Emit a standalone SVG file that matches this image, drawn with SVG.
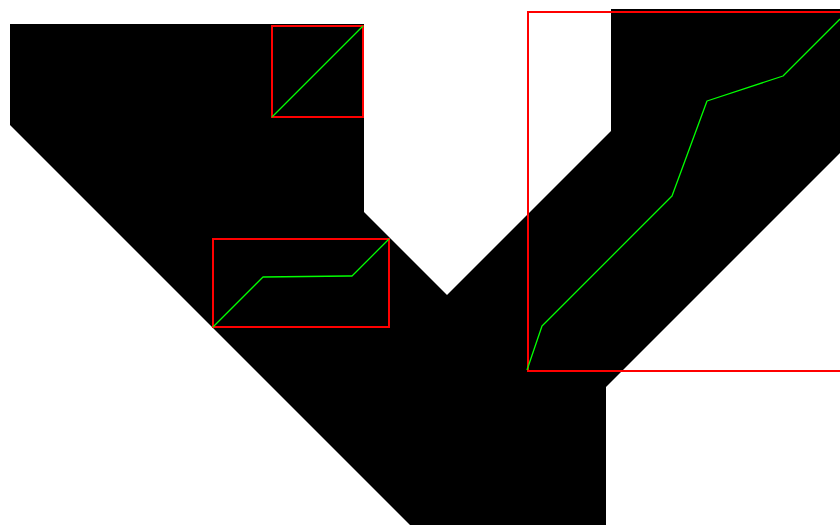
<svg xmlns="http://www.w3.org/2000/svg" width="840" height="527" viewBox="0 0 840 527">
<style>
.box{fill:none;stroke:#ff0000;stroke-width:2}
.path{fill:none;stroke:#00ff00;stroke-width:1.3;stroke-linejoin:round}
</style>
<rect width="840" height="527" fill="#ffffff"/>
<g id="shape">
<polygon points="10,24 364,24 364,212 447,295 611,131 611,9 840,9 840,153 606,387 606,525 410,525 10,125" fill="#000000"/>
</g>
<g id="boxes">
<rect class="box" x="272" y="26" width="91" height="91"/>
<rect class="box" x="213" y="239" width="176" height="88"/>
<rect class="box" x="528" y="12" width="320" height="359"/>
</g>
<g id="paths">
<polyline class="path" points="272,117 363,26"/>
<polyline class="path" points="213,327 263,277 348,276 352,276 389,239"/>
<polyline class="path" points="527,370 542,326 672,196 707,101 783,76 840,19"/>
</g>
</svg>
